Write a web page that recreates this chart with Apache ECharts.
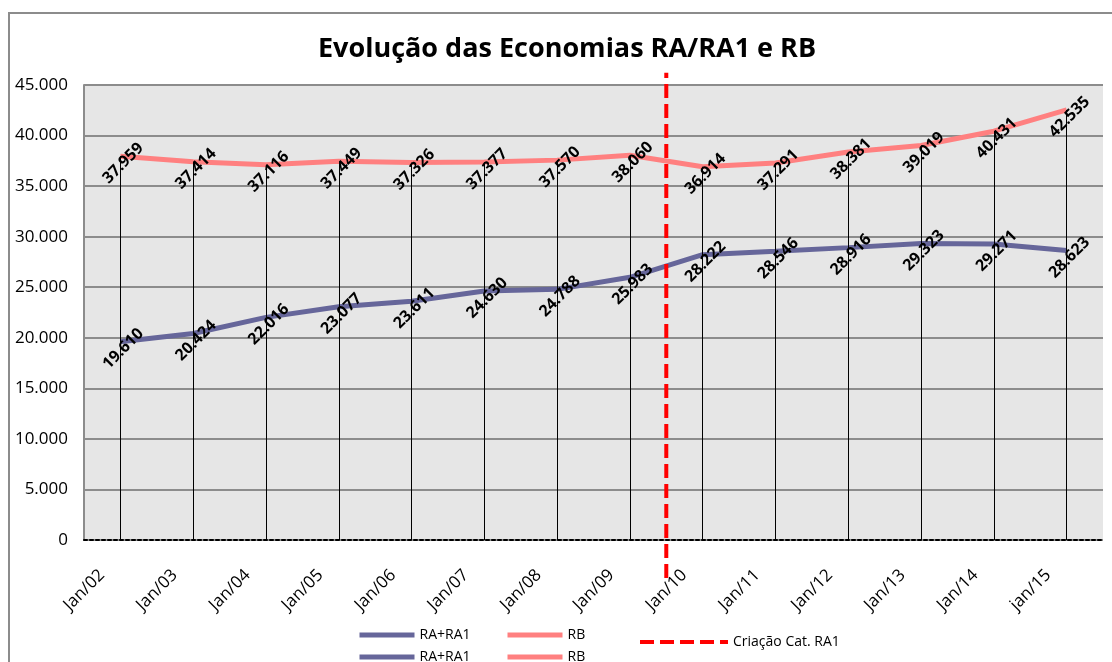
<!DOCTYPE html>
<html>
<head>
<meta charset="utf-8">
<script src="https://cdn.jsdelivr.net/npm/echarts@6/dist/echarts.min.js"></script>
<style>
  html, body { margin: 0; padding: 0; background: #fff; }
  #chart { width: 1112px; height: 662px; }
</style>
</head>
<body>
<div id="chart"></div>
<script>
// dados
const categories = ['Jan/02', 'Jan/03', 'Jan/04', 'Jan/05', 'Jan/06', 'Jan/07', 'Jan/08',
  'Jan/09', 'Jan/10', 'Jan/11', 'Jan/12', 'Jan/13', 'Jan/14', 'jan/15']
const raRa1 = [19610, 20424, 22016, 23077, 23611, 24630, 24788, 25983, 28222, 28546, 28916, 29323, 29271, 28623]
const rb = [37959, 37414, 37116, 37449, 37326, 37377, 37570, 38060, 36914, 37291, 38381, 39019, 40431, 42535]
const yTicks = [0, 5000, 10000, 15000, 20000, 25000, 30000, 35000, 40000, 45000]
// linha de criação da cat. RA1, entre Jan/09 e Jan/10 (posição em índice de categoria)
const criacaoAt = 7.5
const criacaoSpan = [-3750, 46200]

const FONT = 'Open Sans'
const fmt = v => String(v).replace(/\B(?=(\d{3})+(?!\d))/g, '.')

const chart = echarts.init(document.getElementById('chart'))

const dataLabel = {
  show: true,
  position: 'inside',
  rotate: 45,
  offset: [-3, 7],
  color: '#000',
  fontFamily: FONT,
  fontWeight: 'bold',
  fontSize: 16,
  formatter: p => fmt(p.value)
}

const legendBase = {
  orient: 'horizontal',
  itemWidth: 55,
  itemHeight: 14,
  itemStyle: { color: 'transparent', borderWidth: 0 },
  lineStyle: { width: 5 },
  textStyle: { fontFamily: FONT, fontSize: 14, color: '#000' },
  selectedMode: false
}

const option = {
  animation: false,
  backgroundColor: '#fff',
  title: {
    text: 'Evolução das Economias RA/RA1 e RB',
    left: 313,
    top: 31,
    textStyle: { fontFamily: FONT, fontWeight: 'bold', fontSize: 27, color: '#000' }
  },
  graphic: [{
    type: 'rect',
    z: -10,
    shape: { x: 9, y: 13, width: 1130, height: 680 },
    style: { fill: 'none', stroke: '#8c8c8c', lineWidth: 2 }
  }],
  legend: [
    Object.assign({ data: ['RA+RA1'], left: 352, top: 623 }, legendBase),
    Object.assign({ data: ['RB'], left: 500, top: 623 }, legendBase),
    Object.assign({ data: ['RA+RA1'], left: 352, top: 645 }, legendBase),
    Object.assign({ data: ['RB'], left: 500, top: 645 }, legendBase),
    Object.assign({ data: ['Criação Cat. RA1'], left: 633, top: 630 }, legendBase,
      { itemWidth: 88, lineStyle: { width: 4 } })
  ],
  grid: {
    left: 84, top: 85, right: 9, bottom: 122,
    show: true,
    backgroundColor: '#e6e6e6',
    borderWidth: 0
  },
  xAxis: [{
    type: 'category',
    data: categories,
    boundaryGap: true,
    axisLine: { lineStyle: { color: '#000', width: 2, type: [3, 3] } },
    axisTick: { show: false },
    axisLabel: {
      rotate: 45,
      margin: 14,
      padding: [0, 26, 0, 0],
      interval: 0,
      color: '#000',
      fontFamily: FONT,
      fontSize: 17
    },
    splitLine: { show: false }
  }, {
    type: 'value',
    min: -0.5,
    max: 13.5,
    show: false
  }],
  yAxis: [{
    type: 'value',
    min: yTicks[0],
    max: yTicks[yTicks.length - 1],
    interval: 5000,
    axisLine: { show: true, onZero: false, lineStyle: { color: '#8c8c8c', width: 2 } },
    axisTick: { show: false },
    axisLabel: {
      margin: 16,
      color: '#000',
      fontFamily: FONT,
      fontSize: 17,
      formatter: v => fmt(v)
    },
    splitLine: { lineStyle: { color: '#8c8c8c', width: 2 } }
  }, {
    type: 'value',
    min: yTicks[0],
    max: yTicks[yTicks.length - 1],
    show: false
  }],
  series: [
    {
      // linhas de chamada até o eixo
      name: 'drop',
      type: 'line',
      data: rb,
      symbol: 'none',
      lineStyle: { opacity: 0 },
      silent: true,
      z: 1,
      markLine: {
        silent: true,
        symbol: 'none',
        label: { show: false },
        lineStyle: { color: '#000', width: 1, type: 'solid' },
        data: rb.map((v, i) => [{ coord: [categories[i], 0] }, { coord: [categories[i], v] }])
      }
    },
    {
      name: 'RA+RA1',
      type: 'line',
      data: raRa1,
      symbol: 'circle',
      symbolSize: 1,
      showSymbol: true,
      itemStyle: { color: 'transparent', borderWidth: 0 },
      lineStyle: { color: '#66669a', width: 5 },
      label: dataLabel,
      z: 3
    },
    {
      name: 'RB',
      type: 'line',
      data: rb,
      symbol: 'circle',
      symbolSize: 1,
      showSymbol: true,
      itemStyle: { color: 'transparent', borderWidth: 0 },
      lineStyle: { color: '#ff8080', width: 5 },
      label: dataLabel,
      z: 3
    },
    {
      name: 'Criação Cat. RA1',
      type: 'line',
      xAxisIndex: 1,
      yAxisIndex: 1,
      data: criacaoSpan.map(y => [criacaoAt, y]),
      symbol: 'none',
      clip: false,
      color: '#ff0000',
      lineStyle: { color: '#ff0000', width: 4, type: [14, 6] },
      z: 4
    }
  ]
}

chart.setOption(option)
</script>
</body>
</html>
